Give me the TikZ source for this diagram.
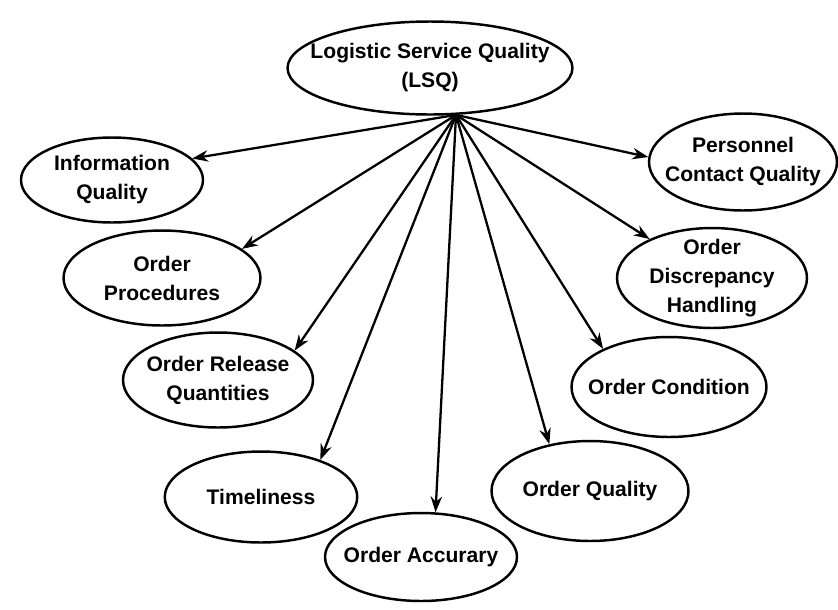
\documentclass[tikz,border=0pt]{standalone}
\usepackage{fontspec}
\setmainfont{Liberation Sans}
\usepackage{tikz}
\usetikzlibrary{arrows.meta, shapes.geometric}
\tikzset{
	line width = 1pt,
	>={Stealth[length=9pt,width=6.5pt]},
	font = \fontsize{12}{16.5}\selectfont\bfseries,
	factor/.style={
		draw,
		ellipse,
		line width=1.4pt,
		align=center,
		inner xsep=-0.6cm,
		inner ysep=-0.3cm,
		minimum width=3.85cm,
		minimum height=1.9cm
	},
	edge/.style={
		->,
		line width=1.3pt
	}
}

\begin{document}
\begin{tikzpicture}[x=0.02cm, y=-0.02cm]
	\useasboundingbox (0,0) rectangle (838,609);
	\node[factor, minimum width=5.7cm, minimum height=1.86cm] (lsq) at (430,68) {Logistic Service Quality\\(LSQ)};
\coordinate (hub) at (lsq.-61);

\node[factor, minimum width=3.64cm, minimum height=1.7cm] (info) at (112,180) {Information\\Quality};
\node[factor, minimum width=3.94cm] (proc) at (162,278) {Order\\Procedures};
\node[factor, minimum width=3.8cm] (orq) at (218,380) {Order Release\\Quantities};
\node[factor, minimum height=1.82cm] (time) at (261,497) {Timeliness};
\node[factor, minimum width=3.84cm, minimum height=1.76cm] (accu) at (421,557) {Order Accurary};
\node[factor, minimum width=3.94cm, minimum height=2cm] (qual) at (590,491) {Order Quality};
\node[factor, minimum width=3.9cm, minimum height=2cm] (cond) at (669,387) {Order Condition};
\node[factor, minimum width=3.8cm, minimum height=2cm] (disc) at (712,278) {Order\\Discrepancy\\Handling};
\node[factor, minimum width=3.76cm, minimum height=1.94cm] (pers) at (743,162) {Personnel\\Contact Quality};

\draw[edge] (hub) to (info.15);
\draw[edge] (hub) to (proc.20);
\draw[edge] (hub) to (orq.21);
\draw[edge] (hub) to (time.32);
\draw[edge] (hub) to (accu.72);
\draw[edge] (hub) to (qual.131);
\draw[edge] (hub) to (cond.150);
\draw[edge] (hub) to (disc.148);
\draw[edge] (hub) to (pers.177);
	\end{tikzpicture}
\end{document}
